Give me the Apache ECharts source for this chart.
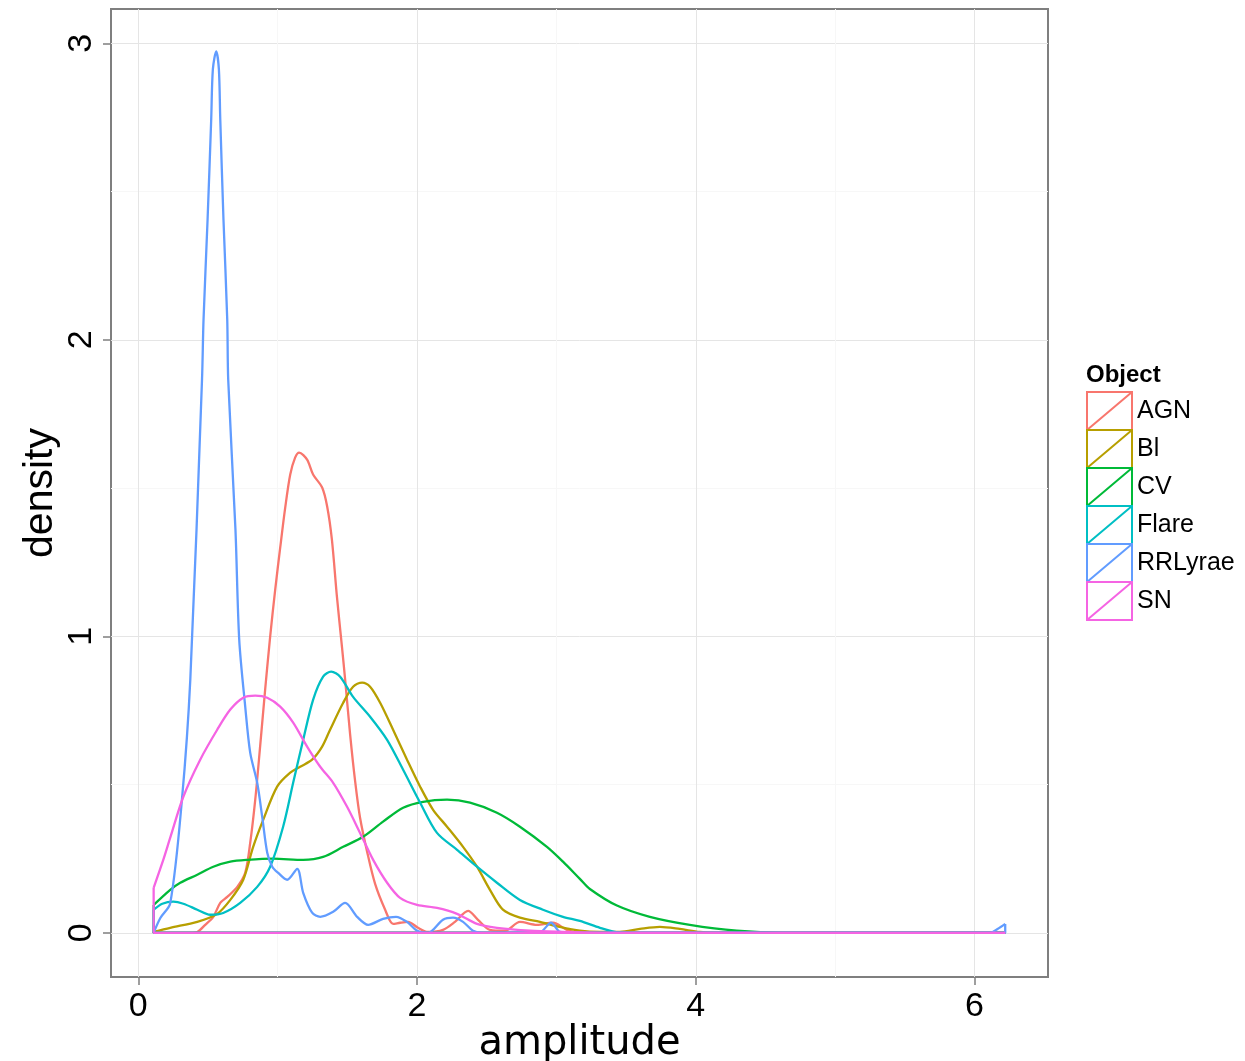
<!DOCTYPE html>
<html><head><meta charset="utf-8">
<script src="https://cdn.jsdelivr.net/npm/echarts@6/dist/echarts.min.js"></script>
<style>html,body{margin:0;padding:0;background:#fff}#c{width:1245px;height:1061px}</style>
</head><body><div id="c"></div><script>
// ---- data ----
const objects = ['AGN', 'Bl', 'CV', 'Flare', 'RRLyrae', 'SN'];
const colors = ['#F8766D', '#B79F00', '#00BA38', '#00BFC4', '#619CFF', '#F564E3'];
const xTicks = [0, 2, 4, 6];
const yTicks = [0, 1, 2, 3];

const agnX = [0.11,0.373,0.423,0.48,0.538,0.588,0.638,0.71,0.767,0.803,0.839,0.875,0.91,0.946,0.982,1.018,1.054,1.09,1.125,1.154,1.211,1.254,1.319,1.355,1.389,1.425,1.461,1.484,1.52,1.556,1.591,1.642,1.699,1.771,1.828,1.878,1.935,2.007,2.079,2.186,2.272,2.366,2.437,2.523,2.631,2.738,2.86,2.975,3.075,3.168,6.22];
const agnY = [0,0,0.003,0.027,0.054,0.101,0.121,0.155,0.202,0.304,0.449,0.634,0.82,0.999,1.157,1.299,1.434,1.546,1.603,1.62,1.596,1.546,1.502,1.438,1.326,1.134,0.965,0.854,0.668,0.51,0.388,0.273,0.165,0.078,0.03,0.034,0.037,0.017,0.003,0.01,0.037,0.074,0.044,0.01,0.007,0.037,0.027,0.034,0.01,0,0];

const blX = [0.11,0.229,0.423,0.566,0.66,0.753,0.824,0.896,0.996,1.09,1.161,1.247,1.319,1.376,1.47,1.541,1.606,1.663,1.735,1.828,1.928,2.022,2.115,2.215,2.33,2.43,2.523,2.616,2.738,2.882,3.025,3.168,3.312,3.455,3.599,3.742,3.885,4.029,4.172,6.22];
const blY = [0.003,0.017,0.037,0.064,0.111,0.179,0.29,0.381,0.493,0.54,0.56,0.584,0.628,0.685,0.776,0.83,0.844,0.83,0.776,0.685,0.584,0.493,0.415,0.358,0.29,0.223,0.145,0.078,0.051,0.037,0.02,0.007,0.003,0.003,0.013,0.02,0.013,0.003,0,0];

const cvX = [0.11,0.229,0.301,0.423,0.538,0.66,0.781,0.968,1.183,1.326,1.47,1.613,1.756,1.9,2.043,2.215,2.38,2.573,2.738,2.932,3.047,3.168,3.24,3.434,3.67,3.957,4.294,4.624,6.22];
const cvY = [0.094,0.145,0.169,0.196,0.223,0.24,0.246,0.25,0.246,0.256,0.29,0.324,0.375,0.422,0.442,0.449,0.439,0.405,0.358,0.29,0.24,0.182,0.148,0.092,0.054,0.027,0.007,0,0];

const flareX = [0.11,0.172,0.251,0.323,0.423,0.516,0.609,0.731,0.853,0.946,1.039,1.111,1.183,1.254,1.326,1.384,1.448,1.541,1.663,1.785,1.9,2.022,2.143,2.287,2.43,2.573,2.738,2.903,3.047,3.168,3.312,3.419,3.527,6.22];
const flareY = [0.078,0.098,0.105,0.098,0.078,0.061,0.067,0.101,0.155,0.223,0.358,0.506,0.651,0.786,0.864,0.881,0.864,0.796,0.729,0.651,0.55,0.439,0.337,0.28,0.223,0.169,0.111,0.078,0.054,0.04,0.017,0.003,0,0];

const rrX = [0.11,0.158,0.229,0.313,0.373,0.457,0.468,0.497,0.523,0.535,0.559,0.578,0.588,0.611,0.638,0.645,0.697,0.724,0.767,0.803,0.853,0.889,0.925,0.961,1.004,1.068,1.14,1.183,1.247,1.305,1.398,1.484,1.57,1.649,1.756,1.849,1.928,2.0,2.079,2.186,2.258,2.33,2.401,2.473,2.882,2.961,3.025,3.1,6.108,6.165,6.22];
const rrY = [0,0.05,0.1,0.449,0.854,1.866,2.069,2.406,2.744,2.913,2.973,2.913,2.744,2.406,2.069,1.866,1.36,0.989,0.763,0.607,0.506,0.391,0.27,0.223,0.202,0.179,0.216,0.135,0.068,0.054,0.071,0.101,0.054,0.027,0.047,0.054,0.037,0.007,0,0.044,0.051,0.037,0.007,0,0.003,0.034,0.003,0,0,0.013,0.03];

const snX = [0.11,0.179,0.229,0.323,0.444,0.566,0.66,0.753,0.839,0.925,1.018,1.111,1.211,1.305,1.398,1.498,1.591,1.685,1.785,1.878,2.0,2.143,2.287,2.43,2.573,2.81,3.047,3.312,6.22];
const snY = [0.152,0.246,0.321,0.459,0.584,0.685,0.753,0.793,0.8,0.793,0.763,0.709,0.628,0.56,0.506,0.425,0.337,0.246,0.169,0.118,0.094,0.084,0.064,0.03,0.017,0.007,0.003,0,0];

const seriesX = [agnX, blX, cvX, flareX, rrX, snX];
const seriesY = [agnY, blY, cvY, flareY, rrY, snY];

// smooth density curve
function curve(xs, ys) {
  return xs.map((x, i) => [x, ys[i]]);
}
// straight closing outline of the density polygon (right side, baseline, left side)
function closure(xs, ys) {
  const n = xs.length - 1;
  return [[xs[n], ys[n]], [xs[n], 0], [xs[0], 0], [xs[0], ys[0]]];
}

const FONT = 'Liberation Sans, Arial, Helvetica, sans-serif';
const chart = echarts.init(document.getElementById('c'), null, {renderer: 'canvas'});
const iconPath = 'path://M0,0 L45,0 L45,38 L0,38 Z M0,38 L45,0';

const series = [];
objects.forEach((n, i) => {
  series.push({
    name: n, type: 'line',
    data: curve(seriesX[i], seriesY[i]),
    showSymbol: false, symbol: 'none', smooth: 0.3,
    lineStyle: {color: colors[i], width: 2.3},
    itemStyle: {color: colors[i]},
    emphasis: {disabled: true}, silent: true, z: 2 + i
  });
  series.push({
    name: n + '_outline', type: 'line',
    data: closure(seriesX[i], seriesY[i]),
    showSymbol: false, symbol: 'none', smooth: false,
    lineStyle: {color: colors[i], width: 2.3},
    itemStyle: {color: colors[i]},
    emphasis: {disabled: true}, silent: true, z: 2 + i
  });
});

chart.setOption({
  animation: false,
  backgroundColor: '#ffffff',
  title: {
    text: 'Object', left: 1086, top: 363, padding: 0,
    textStyle: {fontFamily: FONT, fontSize: 24, fontWeight: 'bold', color: '#000'}
  },
  legend: {
    orient: 'vertical', left: 1086, top: 391, padding: 0,
    itemWidth: 45, itemHeight: 38, itemGap: -2,
    selectedMode: false,
    textStyle: {fontFamily: FONT, fontSize: 25, color: '#000'},
    data: objects.map((n, i) => ({
      name: n, icon: iconPath,
      itemStyle: {color: 'rgba(0,0,0,0)', borderColor: colors[i], borderWidth: 2}
    }))
  },
  grid: {
    left: 111, right: 197, top: 9, bottom: 84,
    outerBoundsMode: 'none', containLabel: false,
    show: true, backgroundColor: '#fff', borderColor: '#7f7f7f', borderWidth: 2
  },
  xAxis: {
    type: 'value', min: -0.196, max: 6.527, splitNumber: 3,
    name: 'amplitude', nameLocation: 'middle', nameGap: 47, nameMoveOverlap: false,
    nameTextStyle: {fontFamily: 'DejaVu Sans', fontSize: 40, color: '#000'},
    axisLine: {show: false, onZero: false},
    axisTick: {show: true, length: 8, lineStyle: {color: '#7f7f7f', width: 1.5}, customValues: xTicks},
    axisLabel: {fontFamily: FONT, fontSize: 34, color: '#000', margin: 13, customValues: xTicks},
    splitLine: {show: true, lineStyle: {color: '#e5e5e5', width: 1}},
    minorTick: {show: false, splitNumber: 2},
    minorSplitLine: {show: true, lineStyle: {color: '#f7f7f7', width: 1}}
  },
  yAxis: {
    type: 'value', min: -0.149, max: 3.116, splitNumber: 3,
    name: 'density', nameLocation: 'middle', nameGap: 50, nameRotate: 90, nameMoveOverlap: false,
    nameTextStyle: {fontFamily: FONT, fontSize: 41, color: '#000'},
    axisLine: {show: false, onZero: false},
    axisTick: {show: true, length: 8, lineStyle: {color: '#7f7f7f', width: 1.5}, customValues: yTicks},
    axisLabel: {fontFamily: FONT, fontSize: 34, color: '#000', margin: 12, rotate: 90, customValues: yTicks},
    splitLine: {show: true, lineStyle: {color: '#e5e5e5', width: 1}},
    minorTick: {show: false, splitNumber: 2},
    minorSplitLine: {show: true, lineStyle: {color: '#f7f7f7', width: 1}}
  },
  series: series
});
</script></body></html>
